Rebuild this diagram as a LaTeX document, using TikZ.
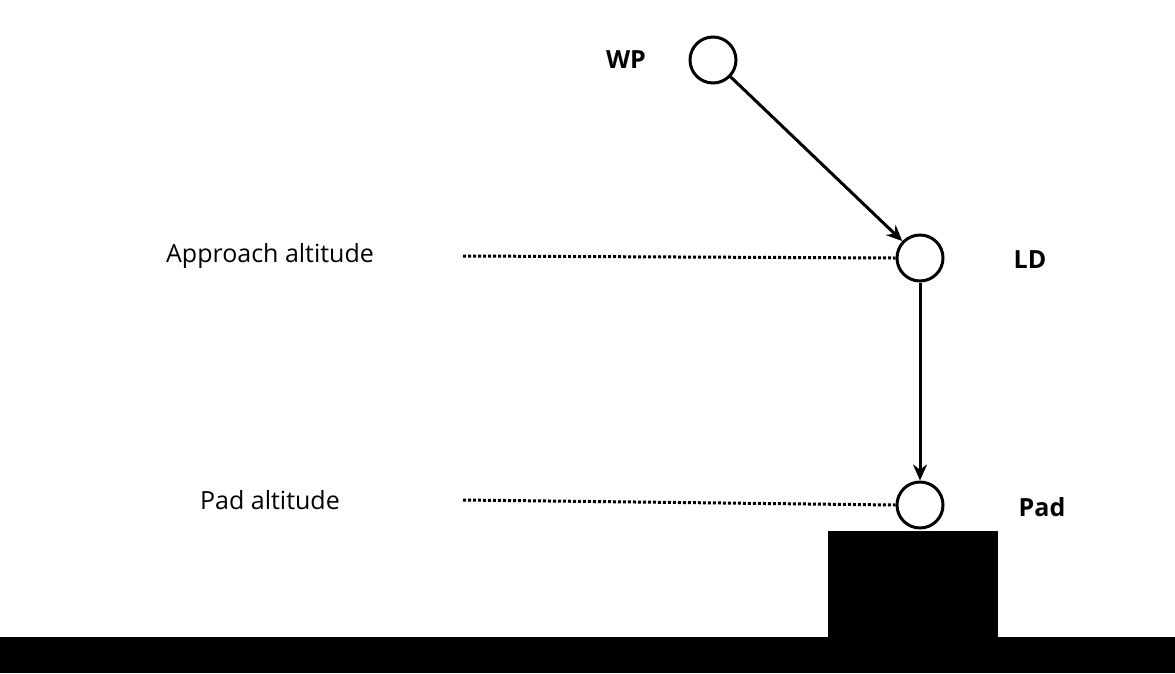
\documentclass[tikz,border=0pt]{standalone}
\usepackage{fontspec}
\setmainfont{Open Sans}
\usetikzlibrary{arrows.meta}
\begin{document}
\begin{tikzpicture}[x=1pt,y=-1pt,
  pt/.style={circle,draw,line width=3pt,minimum size=46pt,inner sep=0pt},
  lbl/.style={font=\fontsize{25}{30}\selectfont\bfseries},
  txt/.style={font=\fontsize{25}{30}\selectfont},
  arr/.style={line width=3pt,-{Stealth[length=16pt,width=14pt]}},
  dot/.style={line width=3pt,dotted}]
\useasboundingbox (0,0) rectangle (1175,673);
\fill (0,637) rectangle (1175,673);
\fill (828,531) rectangle (998,637);
\node[pt] (wp) at (713,60) {};
\node[pt] (ld) at (920,258) {};
\node[pt] (pad) at (920,505) {};
\node[lbl] (wpl) at (626,60) {WP};
\node[lbl] (ldl) at (1030,260) {LD};
\node[lbl] (padl) at (1042,507) {Pad};
\node[txt] (aa) at (270,256) {Approach altitude};
\node[txt] (pa) at (270,500) {Pad altitude};
\coordinate (a1) at (463,256);
\coordinate (p1) at (463,500);
\draw[dot] (a1) -- (ld.west);
\draw[dot] (p1) -- (pad.west);
\draw[arr] (wp) -- (ld);
\draw[arr] (ld) -- (pad);
\end{tikzpicture}
\end{document}
